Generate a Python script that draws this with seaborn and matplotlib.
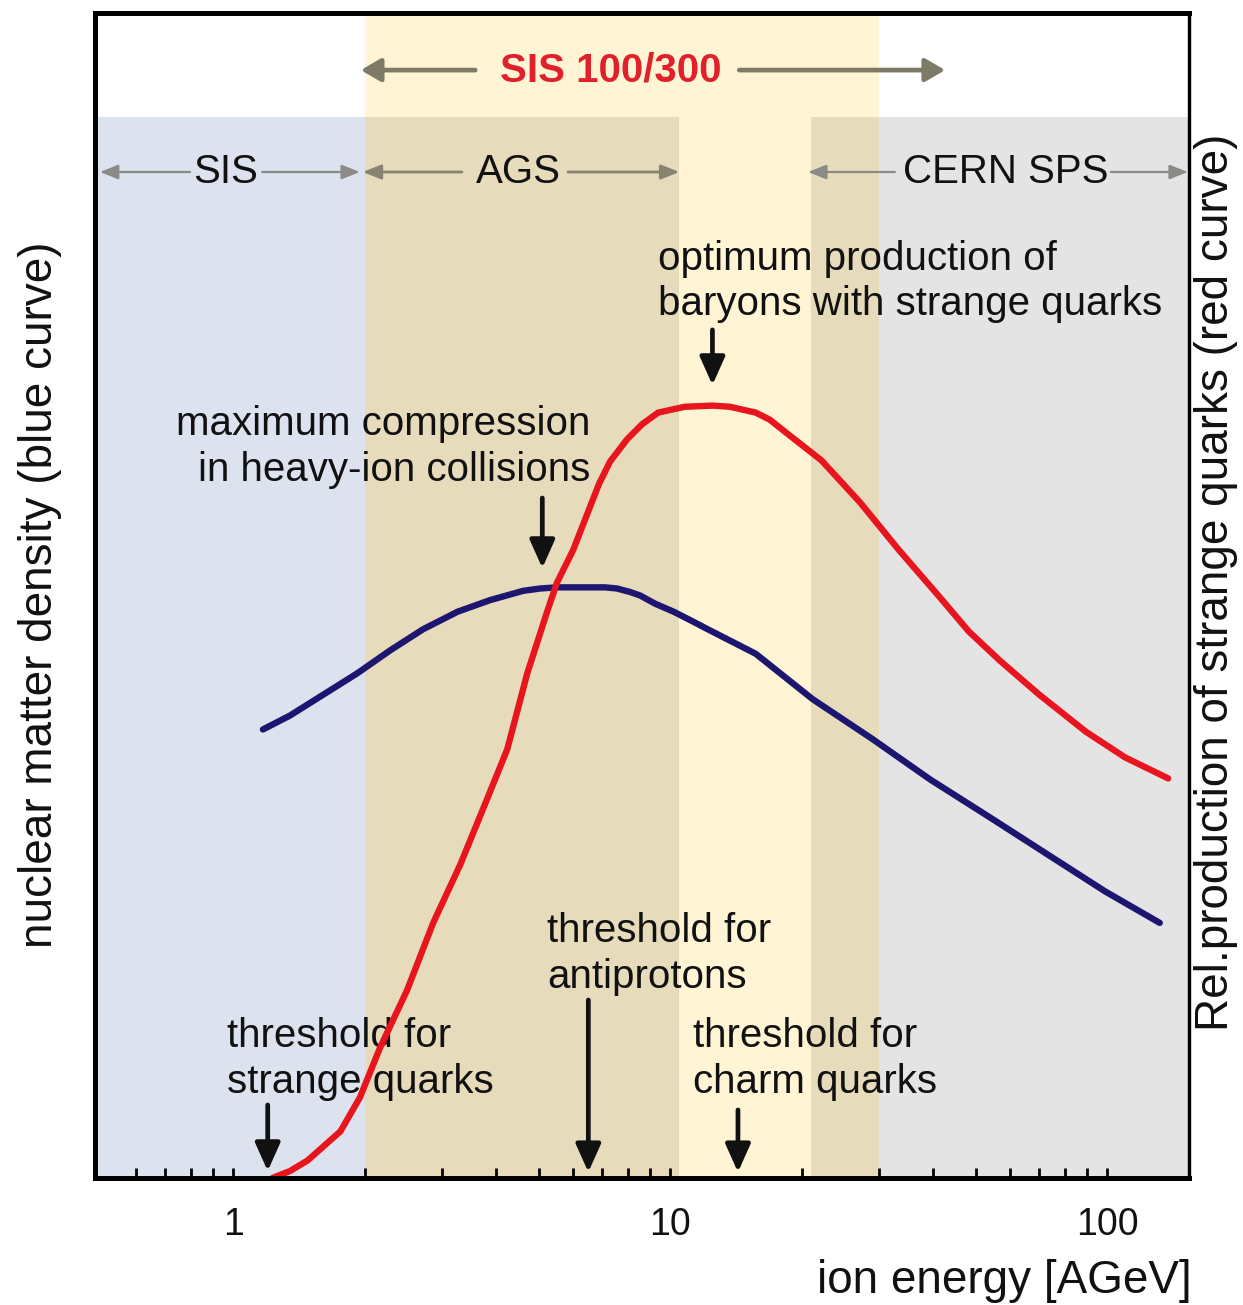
import matplotlib
matplotlib.use("Agg")
import matplotlib.pyplot as plt
import seaborn as sns
import pandas as pd
from matplotlib.ticker import FixedLocator, FixedFormatter, NullFormatter

# --- curve data (ion energy in AGeV, relative units 0-100) ---
blue_energy = [1.17, 1.35, 1.61, 1.92, 2.29, 2.72, 3.26, 3.87, 4.61, 5.04, 5.51, 6.56,
               7.10, 7.56, 8.10, 8.54, 9.24, 10.2, 11.1, 12.2, 15.7, 21.2, 29.0,
               39.4, 53.7, 72.9, 99.0, 132]
blue_density = [38.5, 39.7, 41.5, 43.3, 45.3, 47.1, 48.6, 49.6, 50.4, 50.6, 50.7, 50.7,
                50.7, 50.6, 50.3, 50.0, 49.3, 48.6, 47.9, 47.1, 45.0, 41.1, 37.7,
                34.2, 31.0, 27.8, 24.6, 21.9]

red_energy = [1.23, 1.35, 1.48, 1.76, 1.95, 2.17, 2.50, 2.87, 3.31, 3.81, 4.24, 4.71,
              5.23, 5.51, 6.00, 6.88, 7.29, 7.97, 8.63, 9.39, 10.8, 12.5, 13.7,
              15.7, 16.9, 18.4, 22.2, 27.2, 33.4, 41.1, 48.3, 56.9, 69.9, 89.5,
              110, 138]
red_strange = [0.0, 0.6, 1.5, 4.0, 6.9, 11.2, 16.1, 21.9, 26.9, 32.5, 36.8, 43.3,
               48.6, 51.1, 53.9, 59.6, 61.5, 63.4, 64.7, 65.7, 66.2, 66.3, 66.2,
               65.7, 65.1, 64.0, 61.6, 58.0, 53.9, 50.0, 46.9, 44.4, 41.5, 38.3,
               36.1, 34.3]

# --- accelerator energy ranges (AGeV) ---
x_min, x_max = 0.483, 154
sis_range = (x_min, 2.0)
ags_range = (2.0, 10.5)
sps_range = (21.0, x_max)
sis100_range = (2.0, 30.0)

# --- marked energies (AGeV) ---
thr_strange = 1.2
thr_antiproton = 6.5
thr_charm = 14.3
max_compression = 5.1
opt_baryons = 12.5

major_ticks = [1, 10, 100]
major_labels = ["1", "10", "100"]
minor_ticks = [0.6, 0.7, 0.8, 0.9, 2, 3, 4, 5, 6, 7, 8, 9,
               20, 30, 40, 50, 60, 70, 80, 90]

sns.set_theme(style="white")
plt.rcParams["font.family"] = ["Liberation Sans", "DejaVu Sans"]

W, H = 1243, 1305
fig = plt.figure(figsize=(W / 100, H / 100), dpi=100)
fig.patch.set_facecolor("white")
ax = fig.add_axes([95 / W, 1 - 1178 / H, (1189 - 95) / W, (1178 - 13) / H])
ax.set_xscale("log")
ax.set_xlim(x_min, x_max)
ax.set_ylim(0, 100)
ax.set_facecolor("white")

band_top = 0.9107
C_SIS = "#dce3ef"
C_TAN = "#e6dcbc"
C_YEL = "#fff5d5"
C_GRAY = "#e4e4e4"

ax.axvspan(*sis100_range, ymin=0, ymax=1, color=C_YEL, lw=0, zorder=0)
ax.axvspan(*sis_range, ymin=0, ymax=band_top, color=C_SIS, lw=0, zorder=0.1)
ax.axvspan(*ags_range, ymin=0, ymax=band_top, color=C_TAN, lw=0, zorder=0.1)
ax.axvspan(sps_range[0], sis100_range[1], ymin=0, ymax=band_top, color=C_TAN, lw=0, zorder=0.1)
ax.axvspan(sis100_range[1], sps_range[1], ymin=0, ymax=band_top, color=C_GRAY, lw=0, zorder=0.1)

# --- curves ---
blue_df = pd.DataFrame({"energy": blue_energy, "density": blue_density})
red_df = pd.DataFrame({"energy": red_energy, "strange": red_strange})

sns.lineplot(data=blue_df, x="energy", y="density", ax=ax, color="#1c1670",
             lw=4.6, solid_capstyle="round", solid_joinstyle="round", zorder=3)

ax2 = ax.twinx()
ax2.set_ylim(0, 100)
sns.lineplot(data=red_df, x="energy", y="strange", ax=ax2, color="#e8141e",
             lw=4.6, solid_capstyle="round", solid_joinstyle="round", zorder=3)
ax2.set_xlim(x_min, x_max)

for a in (ax, ax2):
    a.set_xlabel("")
    a.set_ylabel("")
    a.set_yticks([])
    a.grid(False)

# --- x ticks ---
ax.xaxis.set_major_locator(FixedLocator(major_ticks))
ax.xaxis.set_major_formatter(FixedFormatter(major_labels))
ax.xaxis.set_minor_locator(FixedLocator(minor_ticks))
ax.xaxis.set_minor_formatter(NullFormatter())
ax.tick_params(axis="x", which="both", direction="in", length=7, width=2,
               color="black", bottom=True, top=False, labelsize=27,
               labelcolor="#111111", pad=21)
ax2.tick_params(axis="x", which="both", bottom=False, top=False)

for a in (ax, ax2):
    for side, sp in a.spines.items():
        sp.set_visible(True)
        sp.set_color("black")
        sp.set_linewidth(2.3 if side == "right" else 3.6)
        sp.set_zorder(10)

# --- text helpers ---
tr = ax.get_xaxis_transform()
FS = 29


def arrow(x0, y0, x1, y1, color, lw, hl, hw, ms=20):
    ax.annotate("", xy=(x1, y1), xytext=(x0, y0), xycoords=tr, textcoords=tr,
                arrowprops=dict(arrowstyle=f"-|>,head_length={hl},head_width={hw}",
                                color=color, lw=lw, shrinkA=0, shrinkB=0,
                                mutation_scale=ms),
                zorder=4)


# accelerator labels in the band row
row = 0.8635
GR = "#8a8a86"
ax.text(0.959, row, "SIS", transform=tr, ha="center", va="center", fontsize=FS, color="#111111", zorder=5)
arrow(0.797, row, 0.496, row, GR, 1.6, 0.55, 0.22)
arrow(1.165, row, 1.95, row, GR, 1.6, 0.55, 0.22)

ax.text(4.49, row, "AGS", transform=tr, ha="center", va="center", fontsize=FS, color="#111111", zorder=5)
arrow(3.34, row, 1.98, row, "#868470", 2.0, 0.55, 0.22)
arrow(5.84, row, 10.5, row, "#868470", 2.0, 0.55, 0.22)

ax.text(58.5, row, "CERN SPS", transform=tr, ha="center", va="center", fontsize=FS, color="#111111", zorder=5)
arrow(32.7, row, 20.7, row, GR, 1.6, 0.55, 0.22)
arrow(102, row, 153, row, GR, 1.6, 0.55, 0.22)

# SIS 100/300 header
top_row = 0.951
ax.text(7.33, top_row, "SIS 100/300", transform=tr, ha="center", va="center",
        fontsize=FS, fontweight="bold", color="#e0202a", zorder=5)
arrow(3.58, top_row, 1.96, top_row, "#7d7a68", 3.4, 0.6, 0.35)
arrow(14.4, top_row, 42.6, top_row, "#7d7a68", 3.4, 0.6, 0.35)

# annotations with black arrows
BK = "#111111"
ax.text(6.56, 0.6275, "maximum compression\nin heavy-ion collisions", transform=tr,
        ha="right", va="center", multialignment="right", fontsize=FS, color=BK,
        linespacing=1.25, zorder=2)
arrow(max_compression, 0.5837, max_compression, 0.5236, BK, 3.4, 0.85, 0.38)

ax.text(9.39, 0.7695, "optimum production of\nbaryons with strange quarks", transform=tr,
        ha="left", va="center", fontsize=FS, color=BK, linespacing=1.25, zorder=2)
arrow(opt_baryons, 0.728, opt_baryons, 0.6807, BK, 3.4, 0.85, 0.38)

ax.text(5.23, 0.1923, "threshold for\nantiprotons", transform=tr,
        ha="left", va="center", fontsize=FS, color=BK, linespacing=1.25, zorder=2)
arrow(thr_antiproton, 0.1528, thr_antiproton, 0.005, BK, 3.4, 0.85, 0.38)

ax.text(0.969, 0.1021, "threshold for\nstrange quarks", transform=tr,
        ha="left", va="center", fontsize=FS, color=BK, linespacing=1.25, zorder=2)
arrow(thr_strange, 0.0627, thr_strange, 0.006, BK, 3.4, 0.85, 0.38)

ax.text(11.29, 0.1021, "threshold for\ncharm quarks", transform=tr,
        ha="left", va="center", fontsize=FS, color=BK, linespacing=1.25, zorder=2)
arrow(thr_charm, 0.0584, thr_charm, 0.005, BK, 3.4, 0.85, 0.38)

# axis titles
fig.text(1192 / W, 1 - 1281 / H, "ion energy [AGeV]", ha="right", va="center",
         fontsize=33, color="#111111")
fig.text(40 / W, 1 - 595 / H, "nuclear matter density (blue curve)", ha="center",
         va="center", rotation=90, fontsize=33, color="#111111")
fig.text(1216 / W, 1 - 582 / H, "Rel.production of strange quarks (red curve)",
         ha="center", va="center", rotation=90, fontsize=33, color="#111111")

fig.savefig("out.png", dpi=100, facecolor="white")
